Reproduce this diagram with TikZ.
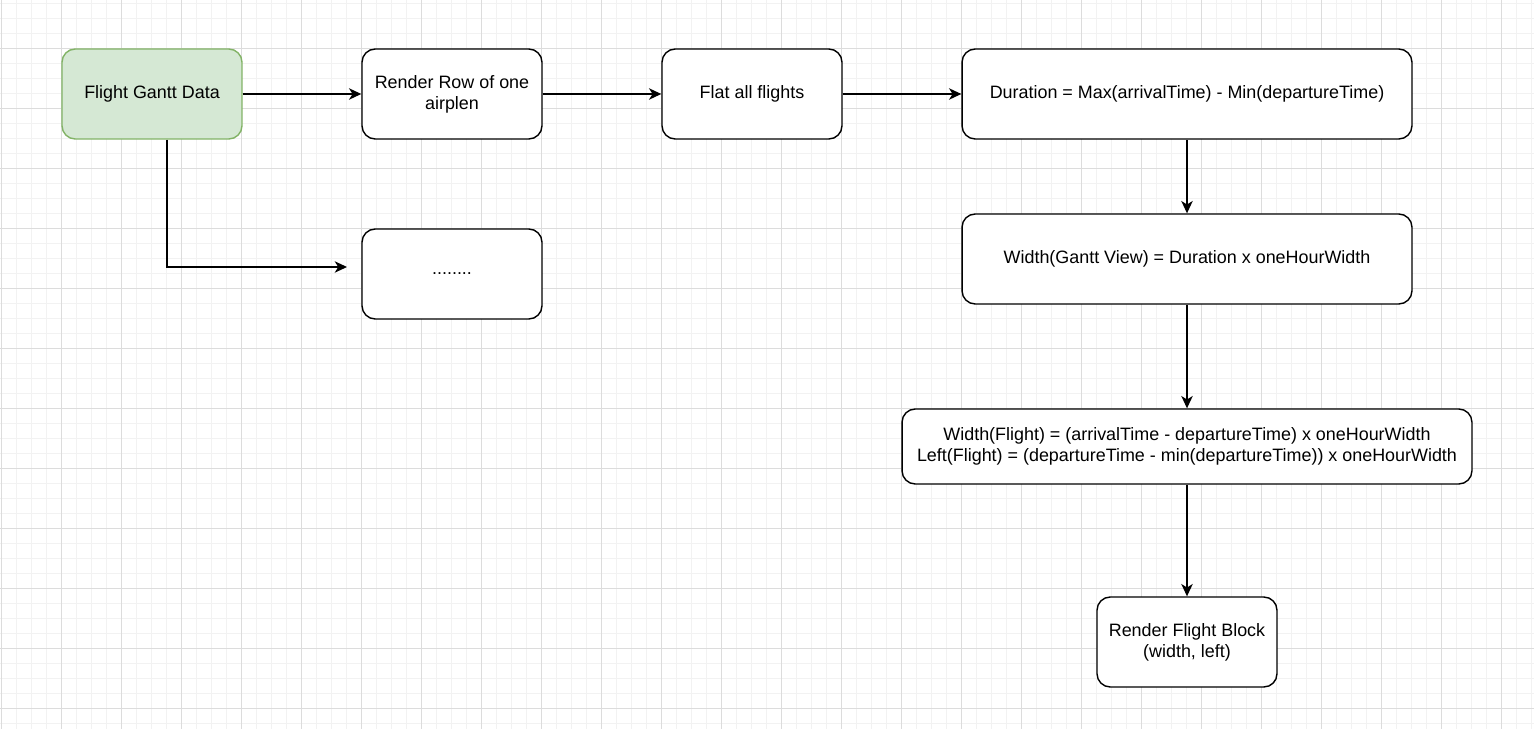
\documentclass[tikz,border=0pt]{standalone}
\usepackage{fontspec}
\setmainfont{Liberation Sans}
\usetikzlibrary{arrows.meta, positioning}
\definecolor{gridmajor}{HTML}{DCDCDC}
\definecolor{gridminor}{HTML}{F2F2F2}
\definecolor{startfill}{HTML}{D5E8D4}
\definecolor{startline}{HTML}{82B366}

\tikzset{
  box/.style={draw, rounded corners=7.5pt, line width=0.8pt, fill=white, align=center,
    minimum width=3.6cm, minimum height=1.8cm},
  startbox/.style={box, fill=startfill, draw=startline},
  link/.style={-{Stealth[length=7pt, width=6.5pt, inset=2pt]}, line width=0.8pt},
}

\begin{document}
\begin{tikzpicture}[x=0.02cm, y=-0.02cm, font=\fontsize{10.2}{11.9}\selectfont]
  \useasboundingbox[fill=white] (0,0) rectangle (1534,729);

  % Raster
  \foreach \k in {0,...,102} {
    \draw[gridminor, line width=0.5pt] (1.7+15*\k,0) -- (1.7+15*\k,729);
  }
  \foreach \k in {0,...,48} {
    \draw[gridminor, line width=0.5pt] (0,3.3+15*\k) -- (1534,3.3+15*\k);
  }
  \foreach \k in {0,...,25} {
    \draw[gridmajor, line width=0.5pt] (1.7+60*\k,0) -- (1.7+60*\k,729);
  }
  \foreach \k in {0,...,11} {
    \draw[gridmajor, line width=0.5pt] (0,48.3+60*\k) -- (1534,48.3+60*\k);
  }

  % Uzly
  \node[startbox] (data) at (152,94) {Flight Gantt Data};
  \node[box] (row) at (452,94) {Render Row of one\\airplen};
  \node[box] (flat) at (752,94) {Flat all flights};
  \node[box, minimum width=9cm] (duration) at (1187,94) {Duration = Max(arrivalTime) - Min(departureTime)};
  \node[box, minimum width=9cm] (gantt) at (1187,259) {Width(Gantt View) = Duration x oneHourWidth};
  \node[box, minimum width=11.4cm, minimum height=1.5cm] (flight) at (1187,446.5)
    {Width(Flight) = (arrivalTime - departureTime) x oneHourWidth\\
     Left(Flight) = (departureTime - min(departureTime)) x oneHourWidth};
  \node[box] (block) at (1187,642) {Render Flight Block\\(width, left)};
  \node[box] (more) at (452,274) {........};
  \coordinate (moreend) at (347,267);

  % Spojnice
  \draw[link] (data) -- (row);
  \draw[link] (row) -- (flat);
  \draw[link] (flat) -- (duration);
  \draw[link] (duration) -- (gantt);
  \draw[link] (gantt) -- (flight);
  \draw[link] (flight) -- (block);
  \draw[link] ([xshift=0.3cm]data.south) |- (moreend);
\end{tikzpicture}
\end{document}
